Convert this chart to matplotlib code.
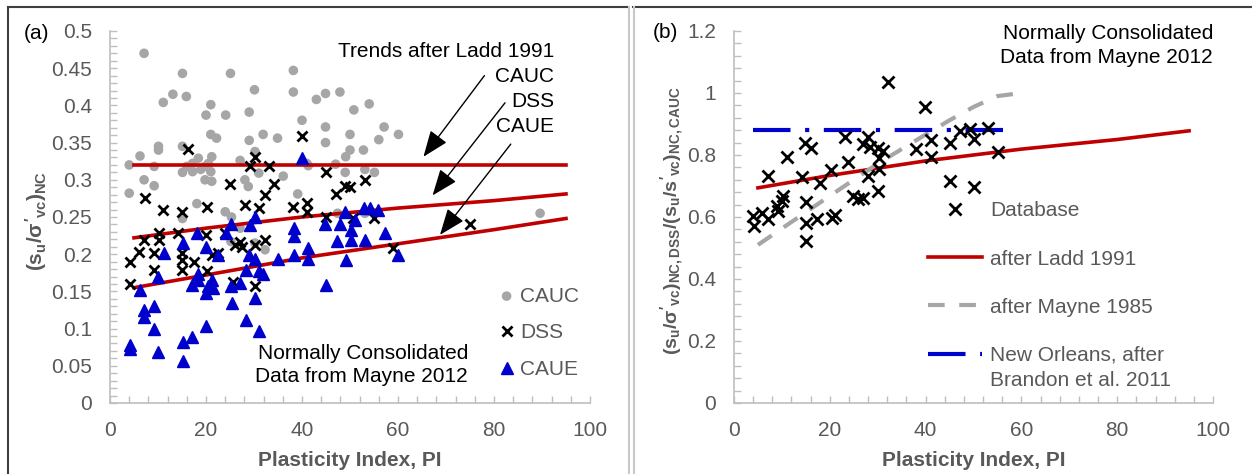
import matplotlib
matplotlib.use("Agg")
import matplotlib.pyplot as plt
from matplotlib.lines import Line2D
from matplotlib.ticker import MultipleLocator

plt.rcParams['font.family'] = ['Liberation Sans', 'DejaVu Sans']
plt.rcParams['mathtext.fontset'] = 'custom'
plt.rcParams['mathtext.rm'] = 'Liberation Sans:bold'
plt.rcParams['mathtext.it'] = 'Liberation Sans:bold'
plt.rcParams['mathtext.bf'] = 'Liberation Sans:bold'

# ---- panel (a) data: PI vs su/sigma'vc (NC) ----
cauc_pi = [7.1, 15.1, 25.1, 38.2, 11.1, 13.1, 15.9, 30.1, 38.2, 43.0, 44.9, 47.9, 54.0, 50.8,
           21.0, 20.0, 24.1, 29.0, 40.0, 44.9, 57.1, 60.1, 50.0, 56.0, 44.9, 50.0, 49.1, 52.8,
           31.9, 34.9, 29.0, 21.0, 22.2, 10.1, 10.1, 6.25, 15.1, 4.0, 9.2, 7.1, 9.2, 4.0, 15.1,
           17.2, 18.4, 19.8, 21.2, 17.2, 21.0, 19.8, 21.2, 18.1, 16.0, 18.9, 20.5,
           27.1, 28.1, 28.8, 30.2, 31.0, 36.1, 39.1, 41.3, 47.0, 49.0, 53.1, 55.1, 41.0,
           24.0, 25.3, 15.1, 25.2, 27.1, 30.2, 32.3, 47.4, 53.1, 89.6]
cauc_su = [0.470, 0.443, 0.443, 0.447, 0.404, 0.415, 0.412, 0.421, 0.418, 0.408, 0.416, 0.418, 0.402, 0.394,
           0.401, 0.387, 0.387, 0.391, 0.380, 0.371, 0.371, 0.361, 0.361, 0.354, 0.350, 0.340, 0.331, 0.340,
           0.361, 0.356, 0.353, 0.361, 0.356, 0.345, 0.340, 0.332, 0.345, 0.320, 0.318, 0.300, 0.292, 0.282, 0.310,
           0.322, 0.329, 0.318, 0.331, 0.311, 0.311, 0.300, 0.298, 0.268, 0.318, 0.314, 0.322,
           0.326, 0.300, 0.291, 0.338, 0.309, 0.305, 0.281, 0.319, 0.321, 0.310, 0.314, 0.310, 0.322,
           0.257, 0.250, 0.248, 0.217, 0.235, 0.215, 0.206, 0.255, 0.255, 0.255]

dss_pi = [40.1, 16.2, 30.2, 29.2, 33.2, 45.1, 25.0, 34.2, 32.3, 49.0, 50.0, 53.1, 47.0, 7.3, 11.1,
          15.1, 20.3, 28.1, 31.0, 38.2, 41.0, 41.0, 45.1, 50.7, 55.1, 74.9,
          7.1, 10.3, 10.3, 14.2, 20.1, 24.0, 6.1, 4.2, 9.2, 9.2, 15.1, 15.1, 15.1, 17.4, 21.3, 22.6,
          27.1, 26.0, 27.4, 32.3, 30.2, 20.3, 4.2, 25.7, 30.2, 59.0]
dss_su = [0.359, 0.341, 0.330, 0.319, 0.319, 0.310, 0.294, 0.294, 0.280, 0.291, 0.290, 0.300, 0.281, 0.275, 0.259,
          0.257, 0.263, 0.266, 0.262, 0.264, 0.269, 0.257, 0.250, 0.248, 0.248, 0.241,
          0.219, 0.229, 0.219, 0.229, 0.226, 0.228, 0.203, 0.190, 0.201, 0.179, 0.201, 0.192, 0.179, 0.190, 0.199, 0.201,
          0.217, 0.212, 0.210, 0.219, 0.212, 0.177, 0.160, 0.163, 0.157, 0.209]

caue_pi = [25.2, 29.2, 30.2, 18.1, 24.1, 38.4, 38.4, 44.8, 47.9, 49.0, 50.2, 50.2, 51.0, 47.2, 53.1, 57.3,
           54.2, 55.8, 53.0, 15.3, 11.3, 20.1, 22.6, 29.0, 30.2, 35.1, 38.4, 41.2, 41.2, 49.1, 60.1,
           10.1, 18.3, 18.3, 17.1, 21.2, 20.5, 20.1, 21.5, 25.2, 27.1, 28.3, 31.0, 31.9, 30.2, 25.5,
           28.3, 31.1, 20.1, 45.0, 6.25, 7.1, 7.1, 9.2, 9.2, 4.2, 4.2, 10.1, 15.3, 17.1, 15.3, 40.1]
caue_su = [0.241, 0.239, 0.250, 0.228, 0.229, 0.235, 0.224, 0.241, 0.241, 0.257, 0.233, 0.219, 0.246, 0.218, 0.219, 0.228,
           0.262, 0.260, 0.262, 0.215, 0.201, 0.210, 0.199, 0.199, 0.194, 0.193, 0.199, 0.208, 0.193, 0.192, 0.199,
           0.170, 0.174, 0.165, 0.159, 0.165, 0.157, 0.148, 0.154, 0.157, 0.161, 0.179, 0.178, 0.173, 0.141, 0.134,
           0.112, 0.097, 0.104, 0.159, 0.152, 0.125, 0.116, 0.130, 0.099, 0.078, 0.072, 0.069, 0.082, 0.089, 0.056, 0.329]

# Ladd 1991 trends
trend_pi = [5, 20, 40, 60, 80, 95]
trend_cauc = [0.32, 0.32, 0.32, 0.32, 0.32, 0.32]
trend_dss = [0.222, 0.235, 0.250, 0.262, 0.272, 0.281]
trend_caue = [0.155, 0.172, 0.195, 0.214, 0.233, 0.248]

# ---- panel (b) data: DSS / CAUC ratio ----
db_pi = [32.2, 39.9, 23.2, 28.0, 27.0, 14.8, 16.1, 11.0, 7.0, 14.1, 20.3, 23.9, 18.0, 28.4, 30.0, 31.2,
         30.3, 30.3, 28.0, 30.1, 24.9, 25.8, 27.0, 10.3, 10.0, 8.9, 9.1, 7.0, 5.8, 4.0, 4.2, 15.0, 15.0,
         17.3, 20.4, 21.1, 15.0, 38.1, 41.1, 41.1, 45.1, 47.2, 49.3, 50.0, 53.1, 55.2, 45.1, 50.0]
db_ratio = [1.037, 0.954, 0.857, 0.857, 0.835, 0.840, 0.824, 0.792, 0.733, 0.730, 0.752, 0.776, 0.709, 0.827, 0.821, 0.813,
            0.789, 0.754, 0.733, 0.684, 0.668, 0.657, 0.662, 0.668, 0.652, 0.636, 0.619, 0.592, 0.614, 0.603, 0.571, 0.648, 0.582,
            0.594, 0.598, 0.608, 0.522, 0.819, 0.849, 0.795, 0.840, 0.878, 0.883, 0.853, 0.886, 0.810, 0.716, 0.698]

ladd_pi = [5, 20, 40, 60, 80, 95]
ladd_ratio = [0.694, 0.734, 0.781, 0.819, 0.850, 0.878]
mayne_pi = [5, 10, 20, 30, 40, 45, 50, 55, 60]
mayne_ratio = [0.51, 0.563, 0.668, 0.772, 0.866, 0.912, 0.955, 0.99, 1.0]
no_pi = [4, 59]
no_ratio = [0.88, 0.88]

GRAY_TXT = '#595959'
RED = '#C00000'
BLUE = '#0000CC'
FS = 15

fig = plt.figure(figsize=(12.52, 4.74), dpi=100)
axa = fig.add_axes([110/1252, 71/474, 480/1252, 372/474])
axb = fig.add_axes([734/1252, 71/474, 479/1252, 372/474])


def style_axis(ax):
    for s in ['top', 'right']:
        ax.spines[s].set_visible(False)
    for s in ['left', 'bottom']:
        ax.spines[s].set_color('#BFBFBF')
        ax.spines[s].set_linewidth(1.2)
    ax.tick_params(which='both', direction='in', length=5, width=1, color='#BFBFBF',
                   labelsize=FS, labelcolor=GRAY_TXT, pad=13)
    ax.xaxis.set_major_locator(MultipleLocator(20))
    ax.xaxis.set_minor_locator(MultipleLocator(4))
    ax.set_xlim(0, 100)


# panel (a)
style_axis(axa)
axa.set_ylim(0, 0.5)
axa.yaxis.set_major_locator(MultipleLocator(0.05))
axa.yaxis.set_minor_locator(MultipleLocator(0.01))
axa.yaxis.set_major_formatter(plt.FuncFormatter(lambda v, p: f'{v:.2f}'.rstrip('0').rstrip('.') if v else '0'))

axa.scatter(cauc_pi, cauc_su, s=48, color='#A6A6A6', edgecolors='none', zorder=2, label='CAUC')
axa.plot(trend_pi, trend_cauc, color=RED, lw=2.6, zorder=2.5)
axa.plot(trend_pi, trend_dss, color=RED, lw=2.6, zorder=2.5)
axa.plot(trend_pi, trend_caue, color=RED, lw=2.6, zorder=2.5)
axa.plot(dss_pi, dss_su, ls='none', marker='x', ms=7.5, mew=2, color='black', zorder=3, label='DSS')
axa.plot(caue_pi, caue_su, ls='none', marker='^', ms=8, color=BLUE, mec=BLUE, zorder=4, label='CAUE')

arr = dict(arrowstyle='-|>,head_length=0.9,head_width=0.35', color='black', lw=1, shrinkA=0, shrinkB=0,
           mutation_scale=18)
axa.annotate('', xy=(65.3, 0.331), xytext=(78.0, 0.440), arrowprops=arr)
axa.annotate('', xy=(67.2, 0.279), xytext=(82.3, 0.4035), arrowprops=arr)
axa.annotate('', xy=(68.75, 0.226), xytext=(83.5, 0.348), arrowprops=arr)

axa.text(92.5, 0.472, 'Trends after Ladd 1991', ha='right', va='center', fontsize=FS)
axa.text(92.5, 0.439, 'CAUC', ha='right', va='center', fontsize=FS)
axa.text(92.5, 0.405, 'DSS', ha='right', va='center', fontsize=FS)
axa.text(92.5, 0.372, 'CAUE', ha='right', va='center', fontsize=FS)
axa.text(74.6, 0.051, 'Normally Consolidated\nData from Mayne 2012', ha='right', va='center',
         fontsize=FS, linespacing=1.3)
axa.text(-18, 0.497, '(a)', ha='left', va='center', fontsize=FS)

axa.set_xlabel('Plasticity Index, PI', fontsize=FS, fontweight='bold', color=GRAY_TXT, labelpad=8)
axa.set_ylabel(r"$(s_u/\sigma'_{vc})_{NC}$", fontsize=FS, color=GRAY_TXT)
axa.yaxis.set_label_coords(-0.128, 0.49)
lga = axa.legend(loc='upper left', bbox_to_anchor=(0.785, 0.341), frameon=False, fontsize=FS,
                 handlelength=0.9, handletextpad=0.2, labelspacing=0.85, borderpad=0)
for t in lga.get_texts():
    t.set_color(GRAY_TXT)

# panel (b)
style_axis(axb)
axb.set_ylim(0, 1.2)
axb.yaxis.set_major_locator(MultipleLocator(0.2))
axb.yaxis.set_minor_locator(MultipleLocator(0.04))
axb.yaxis.set_major_formatter(plt.FuncFormatter(lambda v, p: f'{v:.1f}'.rstrip('0').rstrip('.') if v else '0'))

axb.plot(ladd_pi, ladd_ratio, color=RED, lw=2.6, zorder=2, label='after Ladd 1991')
axb.plot(mayne_pi, mayne_ratio, color='#A6A6A6', lw=3, dashes=(4, 3.5), zorder=2, label='after Mayne 1985')
axb.plot(no_pi, no_ratio, color=BLUE, lw=3, dashes=(9, 3.5, 1, 3.5), zorder=2,
         label='New Orleans, after')
axb.plot(db_pi, db_ratio, ls='none', marker='x', ms=8, mew=2, color='black', zorder=3, label='Database')

axb.text(100, 1.222, 'Normally Consolidated\nData from Mayne 2012', ha='right', va='top',
         fontsize=FS, linespacing=1.3)
axb.text(-17, 1.195, '(b)', ha='left', va='center', fontsize=FS)
axb.set_xlabel('Plasticity Index, PI', fontsize=FS, fontweight='bold', color=GRAY_TXT, labelpad=8)
axb.set_ylabel(r"$(s_u/\sigma'_{vc})_{NC,DSS}/(s_u/s'_{vc})_{NC,CAUC}$", fontsize=FS - 1, color=GRAY_TXT)
axb.yaxis.set_label_coords(-0.1, 0.49)

h, l = axb.get_legend_handles_labels()
order = [3, 0, 1, 2]
lgb = axb.legend([h[i] for i in order], [l[i] for i in order], loc='upper left',
                 bbox_to_anchor=(0.383, 0.57), frameon=False, fontsize=FS, handlelength=2.6,
                 handletextpad=0.4, labelspacing=1.4, borderpad=0)
for t in lgb.get_texts():
    t.set_color(GRAY_TXT)
# second line of the New Orleans legend entry sits under its first line
axb.text(53.4, 0.071, 'Brandon et al. 2011', ha='left', va='center', fontsize=FS, color=GRAY_TXT)

# panel frames
W, H = 1252, 474
def fline(x0, y0, x1, y1, c, lw):
    fig.add_artist(Line2D([x0/W, x1/W], [1 - y0/H, 1 - y1/H], transform=fig.transFigure, color=c, lw=lw))

fline(8, 7, 627, 7, '#404040', 1.5)
fline(8, 7, 8, 474, '#404040', 1.5)
fline(629, 7, 629, 474, '#C8C8C8', 1.5)
fline(633, 7, 1252, 7, '#404040', 1.5)
fline(634, 7, 634, 474, '#C8C8C8', 1.5)

fig.savefig('out.png', dpi=100)
